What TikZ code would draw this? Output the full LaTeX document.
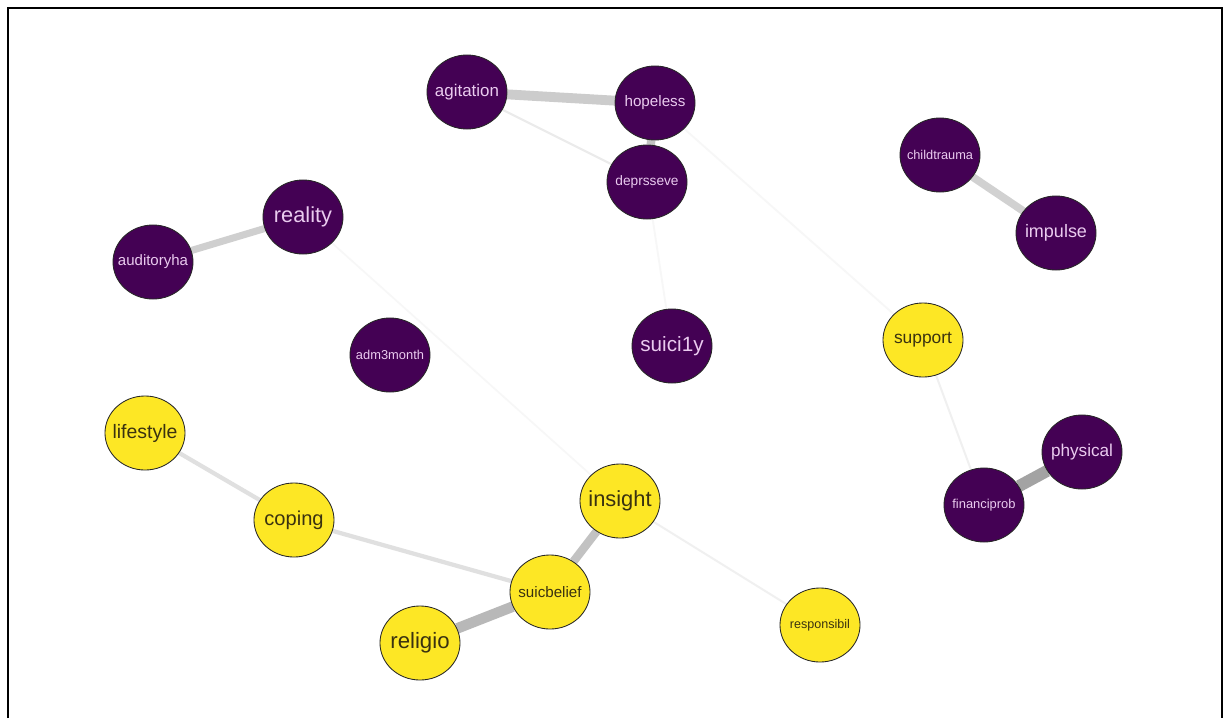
\documentclass[tikz,border=0pt]{standalone}
\usepackage{fontspec}
\setmainfont{Liberation Sans}
\usetikzlibrary{shapes.geometric,backgrounds}
\definecolor{netpurple}{HTML}{440154}
\definecolor{netyellow}{HTML}{FDE725}
\definecolor{lblpurple}{HTML}{EACBEF}
\definecolor{lblyellow}{HTML}{3A3210}
\newcommand{\fitlabel}[2][1.55cm]{\makebox[0pt]{\resizebox{#1}{!}{#2}}}

\begin{document}
\begin{tikzpicture}[x=0.025cm,y=-0.025cm,
	pnode/.style={ellipse,draw=black!85,line width=0.6pt,fill=netpurple,text=lblpurple,
		minimum width=2cm,minimum height=1.85cm,inner sep=0pt},
	ynode/.style={ellipse,draw=black!85,line width=0.6pt,fill=netyellow,text=lblyellow,
		minimum width=2cm,minimum height=1.85cm,inner sep=0pt},
	edge/.style={draw=black!#1,line cap=butt}]
	\useasboundingbox (0,0) rectangle (1224,718);
	\draw[line width=1.8pt] (8,718) -- (8,8);
	\draw[line width=1.1pt] (7,8) -- (1222,8) -- (1222,718);
	\node[pnode] (agitation) at (467,92) {\fitlabel[1.6cm]{agitation}};
	\node[pnode] (hopeless) at (655,103) {\fitlabel[1.52cm]{hopeless}};
	\node[pnode] (deprsseve) at (647,182) {\fitlabel[1.58cm]{deprsseve}};
	\node[pnode] (childtrauma) at (940,155) {\fitlabel[1.65cm]{childtrauma}};
	\node[pnode] (impulse) at (1056,233) {\fitlabel[1.55cm]{impulse}};
	\node[pnode] (reality) at (303,217) {\fitlabel[1.45cm]{reality}};
	\node[pnode] (auditoryha) at (153,262) {\fitlabel[1.75cm]{auditoryha}};
	\node[pnode] (adm3month) at (390,355) {\fitlabel[1.7cm]{adm3month}};
	\node[pnode] (suici1y) at (672,346) {\fitlabel[1.58cm]{suici1y}};
	\node[ynode] (support) at (923,340) {\fitlabel[1.45cm]{support}};
	\node[ynode] (lifestyle) at (145,433) {\fitlabel[1.62cm]{lifestyle}};
	\node[ynode] (coping) at (294,520) {\fitlabel[1.48cm]{coping}};
	\node[ynode] (insight) at (620,501) {\fitlabel[1.58cm]{insight}};
	\node[pnode] (physical) at (1082,452) {\fitlabel[1.55cm]{physical}};
	\node[pnode] (financiprob) at (984,505) {\fitlabel[1.58cm]{financiprob}};
	\node[ynode] (suicbelief) at (550,592) {\fitlabel[1.58cm]{suicbelief}};
	\node[ynode] (religio) at (420,643) {\fitlabel[1.48cm]{religio}};
	\node[ynode] (responsibil) at (820,625) {\fitlabel[1.5cm]{responsibil}};
	\begin{pgfonlayer}{background}
	\fill[white] (0,0) rectangle (1224,718);
	\draw[edge=20,line width=7pt] (agitation) -- (hopeless);
	\draw[edge=24,line width=6pt] (hopeless) -- (deprsseve);
	\draw[edge=8,line width=1.5pt] (agitation) -- (deprsseve);
	\draw[edge=3,line width=1.3pt] (hopeless) -- (support);
	\draw[edge=3,line width=1.3pt] (deprsseve) -- (suici1y);
	\draw[edge=18,line width=5.5pt] (childtrauma) -- (impulse);
	\draw[edge=19,line width=5pt] (reality) -- (auditoryha);
	\draw[edge=3,line width=1.2pt] (reality) -- (insight);
	\draw[edge=6,line width=1.4pt] (support) -- (financiprob);
	\draw[edge=36,line width=8.5pt] (financiprob) -- (physical);
	\draw[edge=12,line width=3pt] (lifestyle) -- (coping);
	\draw[edge=12,line width=3pt] (coping) -- (suicbelief);
	\draw[edge=24,line width=6pt] (suicbelief) -- (insight);
	\draw[edge=28,line width=7.5pt] (suicbelief) -- (religio);
	\draw[edge=6,line width=1.4pt] (insight) -- (responsibil);
	\end{pgfonlayer}
\end{tikzpicture}
\end{document}
